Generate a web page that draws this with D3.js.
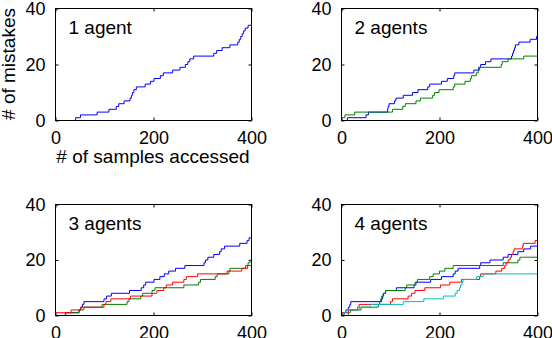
<!DOCTYPE html>
<html>
<head>
<meta charset="utf-8">
<script src="https://cdn.jsdelivr.net/npm/d3@7"></script>
<style>
  body { margin: 0; background: #fff; }
  svg { display: block; font-family: 'Liberation Sans', Arial, sans-serif; }
  .tick text { font-size: 18px; fill: #000; }
  .tick line { stroke: #000; }
  .label { font-size: 19px; fill: #000; }
</style>
</head>
<body>
<svg width="552" height="338"></svg>
<script>
const svg = d3.select('svg');

// axis ticks
const xTicks = [0, 200, 400];
const yTicks = [0, 20, 40];

const panelTitles = ['1 agent', '2 agents', '3 agents', '4 agents'];
const seriesColors = ['#0000ff', '#008000', '#ff0000', '#00bfbf'];

// step points: [samples accessed, mistakes]
const p1Blue = [[0,0],[41,1],[51,2],[85,3],[109,4],[124,5],[129,6],[140,7],[152,8],[155,9],[157,10],[160,11],[165,12],[183,13],[194,14],[201,15],[214,16],[220,17],[239,18],[254,19],[265,20],[270,21],[274,22],[282,23],[323,24],[329,25],[340,26],[356,27],[372,28],[375,29],[378,30],[381,31],[384,32],[387,33],[393,34],[400,34]];

const p2Blue = [[0,0],[12,1],[50,2],[55,3],[94,4],[95,5],[97,6],[108,7],[111,8],[126,9],[145,10],[156,11],[176,12],[180,13],[204,14],[216,15],[229,16],[231,17],[270,18],[280,19],[284,20],[294,21],[305,22],[347,23],[349,24],[351,25],[353,26],[355,27],[362,28],[385,29],[398,30],[400,30]];
const p2Green = [[0,1],[7,2],[27,3],[104,4],[125,5],[130,6],[152,7],[161,8],[186,9],[190,10],[199,11],[228,12],[231,13],[252,14],[263,15],[265,16],[275,17],[279,18],[282,19],[326,20],[328,21],[340,22],[372,23],[400,23]];

const p3Blue = [[0,0],[20,1],[48,2],[52,3],[55,4],[58,5],[99,6],[104,7],[114,8],[151,9],[175,10],[180,11],[184,12],[201,13],[213,14],[222,15],[231,16],[245,17],[264,18],[303,19],[306,20],[311,21],[323,22],[335,23],[338,24],[345,25],[376,26],[391,27],[395,28],[400,28]];
const p3Green = [[0,0],[21,1],[48,2],[58,3],[95,4],[146,5],[150,6],[174,7],[178,8],[197,9],[203,10],[262,11],[292,12],[296,13],[326,14],[330,15],[354,16],[356,17],[388,18],[393,19],[397,20],[400,20]];
const p3Red = [[0,1],[32,2],[51,3],[99,4],[103,5],[113,6],[153,7],[197,8],[207,9],[221,10],[226,11],[239,12],[262,13],[267,14],[290,15],[350,16],[380,17],[392,18],[400,18]];

const p4Blue = [[0,0],[5,1],[9,2],[14,3],[17,4],[19,5],[82,6],[84,7],[86,8],[90,9],[112,10],[148,11],[152,12],[182,13],[204,14],[228,15],[232,16],[238,17],[282,18],[284,19],[303,20],[330,21],[340,22],[360,23],[372,24],[386,25],[400,25]];
const p4Green = [[0,0],[14,1],[18,2],[40,3],[75,4],[78,5],[80,6],[82,7],[85,8],[90,9],[130,10],[133,11],[150,12],[155,13],[180,14],[187,15],[200,16],[211,17],[228,18],[330,19],[360,20],[364,21],[400,21]];
const p4Red = [[0,1],[14,2],[33,3],[36,4],[100,5],[104,6],[136,7],[143,8],[150,9],[170,10],[202,11],[221,12],[245,13],[282,14],[284,15],[315,16],[327,17],[333,18],[336,19],[340,20],[344,21],[347,22],[350,23],[352,24],[369,25],[371,26],[395,27],[400,27]];
const p4Cyan = [[0,0],[5,1],[9,2],[37,3],[58,4],[126,5],[168,6],[208,7],[232,8],[236,9],[241,10],[243,11],[246,12],[248,13],[276,14],[289,15],[400,15]];

const panelSeries = [
  [p1Blue],
  [p2Blue, p2Green],
  [p3Blue, p3Green, p3Red],
  [p4Blue, p4Green, p4Red, p4Cyan]
];

// panel boxes
const layout = [
  { left: 55, top: 8, width: 196, height: 112 },
  { left: 341, top: 8, width: 196, height: 112 },
  { left: 55, top: 204, width: 196, height: 111 },
  { left: 341, top: 204, width: 196, height: 111 }
];

const drawPanel = (i) => {
  const { left, top, width, height } = layout[i];

  const xScale = d3.scaleLinear().domain([0, 400]).range([0, width]);
  const yScale = d3.scaleLinear().domain([0, 40]).range([height, 0]);

  const g = svg.append('g')
    .attr('transform', `translate(${left + 0.5},${top + 0.5})`);

  // inward ticks on all four sides, matlab style
  g.append('g')
    .attr('transform', `translate(0,${height})`)
    .call(d3.axisBottom(xScale).tickValues(xTicks).tickSizeInner(-3).tickSizeOuter(0).tickPadding(11))
    .call(a => a.select('.domain').remove());
  g.append('g')
    .call(d3.axisTop(xScale).tickValues(xTicks).tickSizeInner(-3).tickSizeOuter(0).tickFormat(''))
    .call(a => a.select('.domain').remove());
  g.append('g')
    .call(d3.axisLeft(yScale).tickValues(yTicks).tickSizeInner(-3).tickSizeOuter(0).tickPadding(10))
    .call(a => a.select('.domain').remove());
  g.append('g')
    .attr('transform', `translate(${width},0)`)
    .call(d3.axisRight(yScale).tickValues(yTicks).tickSizeInner(-3).tickSizeOuter(0).tickFormat(''))
    .call(a => a.select('.domain').remove());

  g.selectAll('.tick text').attr('font-family', null).attr('font-size', null);

  const line = d3.line()
    .x(d => xScale(d[0]))
    .y(d => yScale(d[1]))
    .curve(d3.curveStepAfter);

  g.selectAll('path.series')
    .data(panelSeries[i])
    .enter().append('path')
      .attr('class', 'series')
      .attr('fill', 'none')
      .attr('stroke', (d, j) => seriesColors[j])
      .attr('stroke-width', 1)
      .attr('d', line);

  g.append('rect')
    .attr('width', width)
    .attr('height', height)
    .attr('fill', 'none')
    .attr('stroke', '#000');

  g.append('text')
    .attr('class', 'label')
    .attr('x', 13)
    .attr('y', 25)
    .text(panelTitles[i]);
};

layout.forEach((p, i) => drawPanel(i));

svg.append('text')
  .attr('class', 'label')
  .attr('text-anchor', 'middle')
  .attr('x', 153)
  .attr('y', 163)
  .text('# of samples accessed');

svg.append('text')
  .attr('class', 'label')
  .attr('text-anchor', 'middle')
  .attr('transform', 'translate(15,64) rotate(-90)')
  .text('# of mistakes');
</script>
</body>
</html>
